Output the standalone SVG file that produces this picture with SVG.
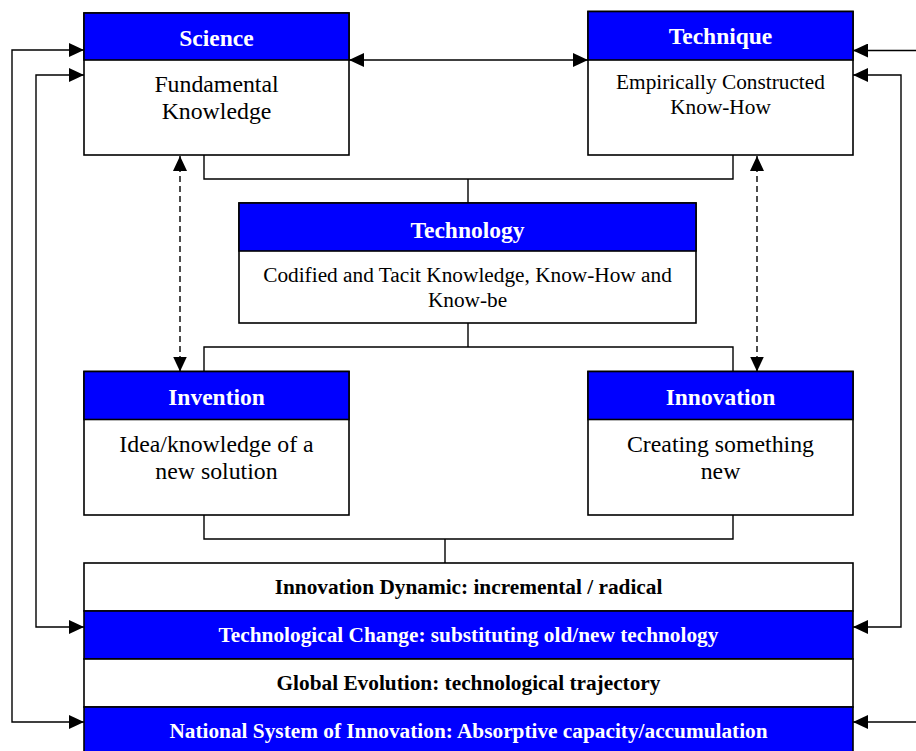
<svg xmlns="http://www.w3.org/2000/svg" width="916" height="751" viewBox="0 0 916 751">
<defs>
<marker id="ah" viewBox="0 0 15 14" refX="15" refY="7" markerWidth="15" markerHeight="14" markerUnits="userSpaceOnUse" orient="auto-start-reverse">
<path d="M0,0 L15,7 L0,14 z" fill="#000"/>
</marker>
<style>
.box{fill:#fff;stroke:#000;stroke-width:1.6}
.hdr{fill:#0000ff;stroke:#000;stroke-width:1.6}
.ht{font-family:"Liberation Serif","Times New Roman",serif;font-weight:bold;font-size:23.5px;fill:#fff;text-anchor:middle}
.bt{font-family:"Liberation Serif","Times New Roman",serif;font-size:23.8px;fill:#000;text-anchor:middle}
.bt2{font-family:"Liberation Serif","Times New Roman",serif;font-size:21.3px;fill:#000;text-anchor:middle}
.rw{font-family:"Liberation Serif","Times New Roman",serif;font-weight:bold;font-size:21.3px;fill:#000;text-anchor:middle}
.rb{font-family:"Liberation Serif","Times New Roman",serif;font-weight:bold;font-size:21.3px;fill:#fff;text-anchor:middle}
.ln{fill:none;stroke:#000;stroke-width:1.4}
.ar{fill:none;stroke:#000;stroke-width:1.4;marker-end:url(#ah)}
.ar2{fill:none;stroke:#000;stroke-width:1.4;marker-start:url(#ah);marker-end:url(#ah)}
.da{stroke-dasharray:6,4}
</style>
</defs>
<g id="connectors">
<path class="ln" d="M204,155 V179 H733 V155 M468,179 V203"/>
<path class="ln" d="M468,323 V347 M204,371.5 V347 H733 V371.5"/>
<path class="ln" d="M204,515 V539 H733 V515 M445,539 V563"/>
<path class="ar2 da" d="M180,156 V371.5"/>
<path class="ar2 da" d="M757,156 V371.5"/>
<path class="ar2" d="M349,60 H588"/>
<path class="ar2" d="M84,50 H12 V722 H84"/>
<path class="ar2" d="M84,75 H36 V627 H84"/>
<path class="ar2" d="M853,75 H901 V627 H853"/>
<path class="ar" d="M920,50.5 H853"/>
<path class="ar" d="M920,722 H853"/>
</g>
<g id="science">
<rect class="box" x="84" y="13" width="265" height="142"/>
<rect class="hdr" x="84" y="13" width="265" height="47"/>
<text class="ht" x="216.5" y="46">Science</text>
<text class="bt" x="216.5" y="91.5">Fundamental</text>
<text class="bt" x="216.5" y="119">Knowledge</text>
</g>
<g id="technique">
<rect class="box" x="588" y="11.5" width="265" height="143.5"/>
<rect class="hdr" x="588" y="11.5" width="265" height="48.5"/>
<text class="ht" x="720.5" y="44">Technique</text>
<text class="bt2" x="720.5" y="88.5">Empirically Constructed</text>
<text class="bt2" x="720.5" y="114">Know-How</text>
</g>
<g id="technology">
<rect class="box" x="239" y="203" width="457" height="120"/>
<rect class="hdr" x="239" y="203" width="457" height="48"/>
<text class="ht" x="467.5" y="237.5">Technology</text>
<text class="bt2" x="467.5" y="282">Codified and Tacit Knowledge, Know-How and</text>
<text class="bt2" x="467.5" y="306.5">Know-be</text>
</g>
<g id="invention">
<rect class="box" x="84" y="371.5" width="265" height="143.5"/>
<rect class="hdr" x="84" y="371.5" width="265" height="48"/>
<text class="ht" x="216.5" y="404.5">Invention</text>
<text class="bt" x="216.5" y="451.5">Idea/knowledge of a</text>
<text class="bt" x="216.5" y="479">new solution</text>
</g>
<g id="innovation">
<rect class="box" x="588" y="371.5" width="265" height="143.5"/>
<rect class="hdr" x="588" y="371.5" width="265" height="48"/>
<text class="ht" x="720.5" y="404.5">Innovation</text>
<text class="bt" x="720.5" y="451.5">Creating something</text>
<text class="bt" x="720.5" y="479">new</text>
</g>
<g id="innovation-dynamic">
<rect class="box" x="84" y="563" width="769" height="48"/>
<text class="rw" x="468.5" y="593.5">Innovation Dynamic: incremental / radical</text>
</g>
<g id="technological-change">
<rect class="hdr" x="84" y="611" width="769" height="48"/>
<text class="rb" x="468.5" y="641.5">Technological Change: substituting old/new technology</text>
</g>
<g id="global-evolution">
<rect class="box" x="84" y="659" width="769" height="48"/>
<text class="rw" x="468.5" y="690">Global Evolution: technological trajectory</text>
</g>
<g id="national-system">
<rect class="hdr" x="84" y="707" width="769" height="50"/>
<text class="rb" x="468.5" y="737.5">National System of Innovation: Absorptive capacity/accumulation</text>
</g>
</svg>
